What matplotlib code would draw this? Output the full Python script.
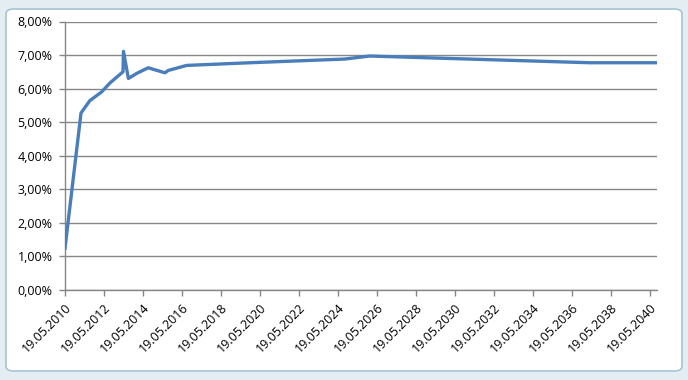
import datetime as dt
import matplotlib
matplotlib.use("Agg")
import matplotlib.pyplot as plt
import matplotlib.dates as mdates
from matplotlib.patches import FancyBboxPatch
from matplotlib.ticker import FuncFormatter, MultipleLocator

# data (date, rate in %)
dates = [
    "2010-05-19", "2011-03-15", "2011-04-10", "2011-08-28", "2012-04-05",
    "2012-09-10", "2013-05-10", "2013-05-19", "2013-08-19", "2014-01-20",
    "2014-08-25", "2015-07-05", "2015-09-05", "2016-08-15", "2019-11-15",
    "2024-09-26", "2026-01-05", "2037-04-20", "2040-09-20",
]
rates = [
    1.24, 5.27, 5.33, 5.64, 5.90,
    6.17, 6.50, 7.11, 6.30, 6.45,
    6.62, 6.47, 6.54, 6.69, 6.77,
    6.88, 6.97, 6.77, 6.77,
]
tick_years = list(range(2010, 2041, 2))

x = [dt.datetime.strptime(d, "%Y-%m-%d") for d in dates]
y = [r / 100 for r in rates]

plt.rcParams["font.family"] = ["Open Sans", "DejaVu Sans"]

fig = plt.figure(figsize=(6.88, 3.80), dpi=100)
fig.patch.set_facecolor("#e3edf2")

# chart area frame (Excel-like rounded box)
frame = FancyBboxPatch(
    (6 / 688, 9 / 380), 676 / 688, 362 / 380,
    boxstyle="round,pad=0,rounding_size=0.012",
    transform=fig.transFigure, facecolor="white", edgecolor="#a7c4d3",
    linewidth=1.2, zorder=-1,
)
fig.add_artist(frame)

ax = fig.add_axes([65 / 688, 1 - 289.7 / 380, (656.5 - 65) / 688, (289.7 - 21.5) / 380])
ax.set_facecolor("none")
ax.set_zorder(2)

ax.plot(x, y, color="#4a7ebb", linewidth=2.4, solid_joinstyle="round", zorder=3)

ax.set_ylim(0, 0.08)
ax.yaxis.set_major_locator(MultipleLocator(0.01))
ax.yaxis.set_major_formatter(FuncFormatter(lambda v, p: f"{v * 100:.2f}%".replace(".", ",")))
ax.grid(axis="y", color="#868686", linewidth=1.0)
ax.set_axisbelow(True)

ax.set_xlim(dt.datetime(2010, 5, 19), dt.datetime(2040, 9, 25))
ax.set_xticks([dt.datetime(yr, 5, 19) for yr in tick_years])
ax.xaxis.set_major_formatter(mdates.DateFormatter("%d.%m.%Y"))

for side in ["top", "right"]:
    ax.spines[side].set_visible(False)
for side in ["left", "bottom"]:
    ax.spines[side].set_color("#868686")
    ax.spines[side].set_linewidth(1.0)

ax.tick_params(axis="both", colors="#868686", length=4, width=1.0, labelcolor="black", labelsize=9)
ax.tick_params(axis="y", pad=5)
ax.tick_params(axis="x", pad=4)
plt.setp(ax.get_xticklabels(), rotation=45, ha="right", rotation_mode="anchor")

fig.savefig("out.png", dpi=100, facecolor=fig.get_facecolor())
